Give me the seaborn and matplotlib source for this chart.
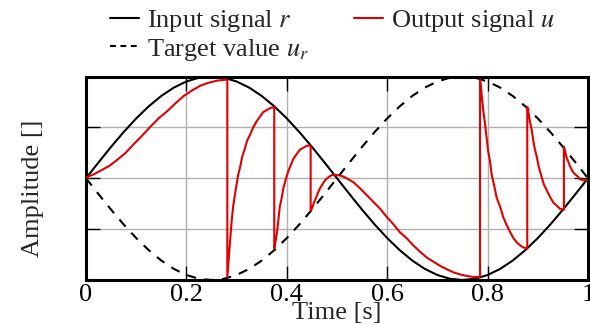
import matplotlib
matplotlib.use("Agg")
import matplotlib.pyplot as plt
import seaborn as sns
import pandas as pd

# ---- data ----
t_ref = [0.000, 0.025, 0.050, 0.075, 0.100, 0.125, 0.150, 0.175, 0.200, 0.225,
         0.250, 0.275, 0.300, 0.325, 0.350, 0.375, 0.400, 0.425, 0.450, 0.475,
         0.500, 0.525, 0.550, 0.575, 0.600, 0.625, 0.650, 0.675, 0.700, 0.725,
         0.750, 0.775, 0.800, 0.825, 0.850, 0.875, 0.900, 0.925, 0.950, 0.975,
         1.000]
r_input = [0.000, 0.156, 0.309, 0.454, 0.588, 0.707, 0.809, 0.891, 0.951, 0.988,
           1.000, 0.988, 0.951, 0.891, 0.809, 0.707, 0.588, 0.454, 0.309, 0.156,
           0.000, -0.156, -0.309, -0.454, -0.588, -0.707, -0.809, -0.891, -0.951, -0.988,
           -1.000, -0.988, -0.951, -0.891, -0.809, -0.707, -0.588, -0.454, -0.309, -0.156,
           0.000]
u_target = [0.000, -0.156, -0.309, -0.454, -0.588, -0.707, -0.809, -0.891, -0.951, -0.988,
            -1.000, -0.988, -0.951, -0.891, -0.809, -0.707, -0.588, -0.454, -0.309, -0.156,
            0.000, 0.156, 0.309, 0.454, 0.588, 0.707, 0.809, 0.891, 0.951, 0.988,
            1.000, 0.988, 0.951, 0.891, 0.809, 0.707, 0.588, 0.454, 0.309, 0.156,
            0.000]

t_out = [0.000, 0.006, 0.016, 0.029, 0.046, 0.062, 0.079, 0.096, 0.112, 0.129,
         0.145, 0.162, 0.179, 0.195, 0.212, 0.228, 0.245, 0.262, 0.2815,
         0.2815, 0.284, 0.287, 0.290, 0.293, 0.297, 0.300, 0.303, 0.307, 0.311,
         0.317, 0.321, 0.327, 0.333, 0.340, 0.347, 0.353, 0.360, 0.367, 0.375,
         0.375, 0.378, 0.380, 0.383, 0.386, 0.390, 0.393, 0.398, 0.403, 0.408,
         0.413, 0.420, 0.426, 0.433, 0.440, 0.4475,
         0.4475, 0.4515, 0.454, 0.4575, 0.4615, 0.466, 0.471, 0.476, 0.483, 0.489,
         0.496, 0.503, 0.511, 0.519, 0.533, 0.546, 0.559, 0.572, 0.586, 0.599,
         0.612, 0.625, 0.639, 0.652, 0.665, 0.679, 0.692, 0.705, 0.719, 0.732,
         0.745, 0.758, 0.772, 0.785,
         0.785, 0.787, 0.788, 0.791, 0.795, 0.798, 0.801, 0.805, 0.808, 0.813,
         0.818, 0.825, 0.831, 0.838, 0.845, 0.851, 0.858, 0.865, 0.871, 0.879,
         0.879, 0.882, 0.884, 0.888, 0.891, 0.894, 0.898, 0.902, 0.908, 0.912,
         0.918, 0.924, 0.931, 0.938, 0.944, 0.952,
         0.952, 0.955, 0.957, 0.961, 0.964, 0.969, 0.974, 0.979, 0.984, 0.991,
         1.000]
u_out = [0.00, 0.02, 0.04, 0.075, 0.12, 0.18, 0.25, 0.34, 0.42, 0.51,
         0.59, 0.66, 0.74, 0.81, 0.865, 0.91, 0.94, 0.96, 0.97,
         -0.97, -0.81, -0.61, -0.43, -0.28, -0.15, -0.06, 0.03, 0.11, 0.21,
         0.30, 0.37, 0.43, 0.50, 0.56, 0.61, 0.65, 0.67, 0.69, 0.70,
         -0.69, -0.61, -0.55, -0.42, -0.28, -0.19, -0.10, -0.01, 0.07, 0.13,
         0.19, 0.24, 0.28, 0.30, 0.32, 0.32,
         -0.32, -0.28, -0.24, -0.20, -0.15, -0.10, -0.06, -0.02, 0.01, 0.03,
         0.03, 0.03, 0.02, 0.00, -0.04, -0.10, -0.165, -0.23, -0.30, -0.38,
         -0.45, -0.53, -0.59, -0.66, -0.72, -0.78, -0.82, -0.86, -0.895, -0.925,
         -0.945, -0.96, -0.97, -0.97,
         0.97, 0.89, 0.83, 0.68, 0.53, 0.40, 0.27, 0.16, 0.04, -0.07,
         -0.19, -0.28, -0.38, -0.46, -0.53, -0.585, -0.63, -0.66, -0.68, -0.69,
         0.70, 0.63, 0.565, 0.47, 0.37, 0.29, 0.21, 0.11, 0.01, -0.06,
         -0.12, -0.18, -0.24, -0.27, -0.30, -0.31,
         0.31, 0.25, 0.21, 0.16, 0.12, 0.07, 0.04, 0.02, -0.01, -0.02,
         -0.02]

x_ticks = [0, 0.2, 0.4, 0.6, 0.8, 1]
x_ticklabels = ["0", "0.2", "0.4", "0.6", "0.8", "1"]
y_ticks = [-1, -0.5, 0, 0.5, 1]

# ---- style ----
sns.set_theme(style="white")
plt.rcParams["font.family"] = ["Liberation Serif", "DejaVu Serif"]
plt.rcParams["mathtext.fontset"] = "stix"
FS = 19

fig = plt.figure(figsize=(5.9, 3.25), dpi=100)
ax = fig.add_axes([86 / 590, 1 - 280 / 325, 502 / 590, 203.5 / 325])

df_ref = pd.DataFrame({"t": t_ref, "r": r_input, "ur": u_target})
df_out = pd.DataFrame({"t": t_out, "u": u_out})

sns.lineplot(data=df_ref, x="t", y="r", ax=ax, color="black", lw=1.5,
             label="Input signal $r$", zorder=3)
sns.lineplot(data=df_ref, x="t", y="ur", ax=ax, color="black", lw=1.5,
             label="Target value $u_r$", zorder=3)
ax.lines[-1].set_dashes((4.5, 4))
sns.lineplot(data=df_out, x="t", y="u", ax=ax, color="#e00000", lw=1.5,
             sort=False, estimator=None, label="Output signal $u$", zorder=4)

ax.set_xlim(0, 1)
ax.set_ylim(-1, 1)
ax.set_xticks(x_ticks)
ax.set_xticklabels(x_ticklabels, fontsize=FS)
ax.set_yticks(y_ticks)
ax.set_yticklabels([])
ax.tick_params(direction="in", length=10, width=1, top=True, right=True,
               left=True, bottom=True, colors="black", pad=3)
ax.grid(True, color="#b0b0b0", lw=1)
for s in ax.spines.values():
    s.set_linewidth(2.2)
    s.set_color("black")

ax.set_xlabel("Time [s]", fontsize=FS, labelpad=-3)
ax.set_ylabel("Amplitude []", fontsize=FS)
ax.yaxis.set_label_coords(-0.084, 0.45)

handles, labels = ax.get_legend_handles_labels()
leg = ax.legend(handles, labels,
                ncol=2, frameon=False, fontsize=FS, loc="upper left",
                bbox_to_anchor=(110 / 590, 1 - 8 / 325), bbox_transform=fig.transFigure,
                handlelength=1.1, handletextpad=0.3, columnspacing=1.7,
                labelspacing=0.1, borderpad=0.0, borderaxespad=0.0)
leg.get_lines()[1].set_dashes((2.8, 2.2))

fig.savefig("out.png", dpi=100)
